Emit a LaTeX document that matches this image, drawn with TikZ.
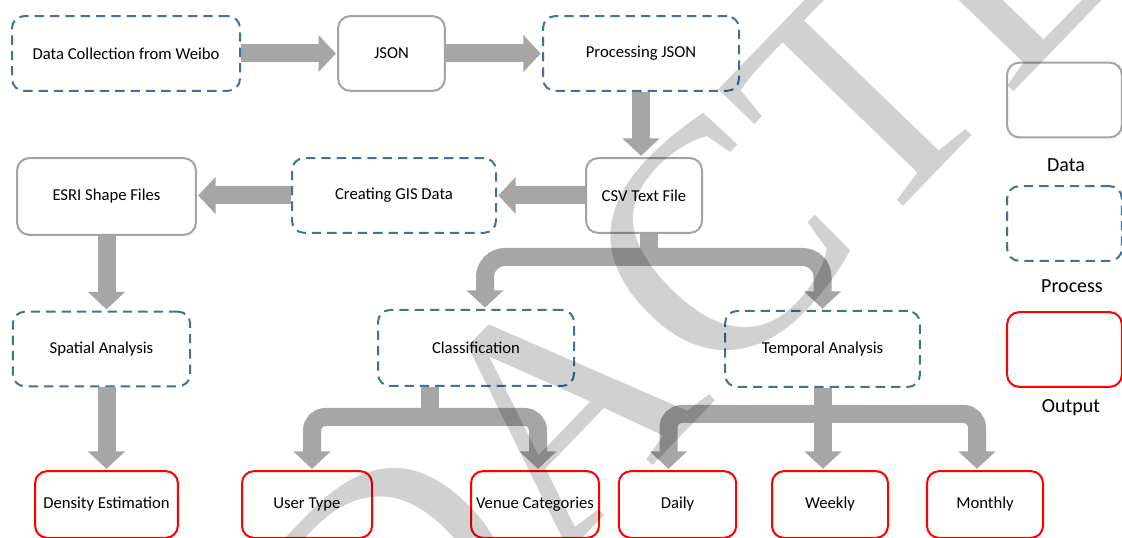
\documentclass[tikz,border=0pt]{standalone}
\usepackage{fontspec}
\setmainfont{Carlito}
\newfontfamily\stampfont{Liberation Serif}
\usetikzlibrary{arrows.meta,calc}
\definecolor{datagray}{HTML}{A3A3A3}
\definecolor{flowgray}{HTML}{A6A6A6}
\definecolor{procblue}{HTML}{41719C}
\definecolor{outred}{HTML}{FF0000}

\begin{document}
\begin{tikzpicture}[x=0.75pt, y=-0.75pt,
    box/.style={rectangle, rounded corners=9pt, line width=1.5pt, minimum height=56pt, inner sep=2pt, font=\fontsize{12.5}{15}\selectfont},
    data/.style={box, draw=datagray},
    proc/.style={box, draw=procblue, dash pattern=on 7pt off 4.5pt},
    outp/.style={box, draw=outred, minimum height=50pt},
    flow/.style={draw=flowgray, line width=13.5pt, -{Triangle[width=27pt,length=13pt]}, shorten >=1pt},
    stem/.style={draw=flowgray, line width=13.5pt},
    legend/.style={font=\fontsize{15}{18}\selectfont},
    stamp/.style={font=\stampfont\fontsize{245}{245}\selectfont, text=black, text opacity=0.18, inner sep=0pt}]
    \useasboundingbox[fill=white] (0,0) rectangle (1122,538);

    % ノードを置く
    \node[proc, minimum width=171pt] (weibo) at (126,53.5) {Data Collection from Weibo};
    \node[data, minimum width=80pt] (json) at (391.5,53.5) {JSON};
    \node[proc, minimum width=147pt] (procjson) at (641,53.5) {Processing JSON};
    \node[data, minimum width=87pt] (csv) at (644,195.5) {CSV Text File};
    \node[proc, minimum width=153pt] (gis) at (394,195.5) {Creating GIS Data};
    \node[data, minimum width=134pt, minimum height=57.5pt] (esri) at (106.5,196.5) {ESRI Shape Files};
    \node[proc, minimum width=133pt] (spatial) at (101.5,349) {Spatial Analysis};
    \node[proc, minimum width=147pt, minimum height=57pt] (classif) at (476,348) {Classification};
    \node[proc, minimum width=146pt, minimum height=57pt] (temporal) at (822.5,349) {Temporal Analysis};

    \node[outp, minimum width=107pt] (density) at (106.5,504.5) {Density Estimation};
    \node[outp, minimum width=97.5pt] (usertype) at (307,504.5) {User Type};
    \node[outp, minimum width=96pt] (venue) at (535,504.5) {Venue Categories};
    \node[outp, minimum width=88pt] (daily) at (677.5,504.5) {Daily};
    \node[outp, minimum width=87pt] (weekly) at (830,504.5) {Weekly};
    \node[outp, minimum width=87pt] (monthly) at (985,504.5) {Monthly};

    % 矢印を引く
    \draw[flow] (weibo.east) -- (json.west);
    \draw[flow] (json.east) -- (procjson.west);
    \draw[flow] (procjson.south) -- (procjson.south |- csv.north);
    \draw[flow] (csv.west) -- (gis.east);
    \draw[flow] (gis.west) -- (gis.west -| esri.east);
    \draw[flow] (esri.south) -- (esri.south |- spatial.north);
    \draw[flow] (density.north |- spatial.south) -- (density.north);

    % 枝分かれ
    \coordinate (csvfork) at (649,257);
    \draw[stem] (csv.south -| csvfork) -- (csvfork);
    \draw[flow, rounded corners=15pt] (csvfork) -| ($(classif.north)+(9,0)$);
    \draw[flow, rounded corners=15pt] (csvfork) -| (temporal.north);

    \coordinate (clsfork) at (430,417);
    \draw[stem] (classif.south -| clsfork) -- (clsfork);
    \draw[flow, rounded corners=10pt] (clsfork) -| ($(usertype.north)+(5,0)$);
    \draw[flow, rounded corners=10pt] (clsfork) -| ($(venue.north)+(3,0)$);

    \coordinate (tmpfork) at (823,414);
    \draw[flow] (temporal.south -| tmpfork) -- (tmpfork |- weekly.north);
    \draw[flow, rounded corners=10pt] (tmpfork) -| ($(daily.north)+(-9,0)$);
    \draw[flow, rounded corners=10pt] (tmpfork) -| ($(monthly.north)+(-8,0)$);

    % 凡例
    \node[data, minimum width=86pt] (legdata) at (1064.5,100) {};
    \node[legend] (legdatatxt) at (1066,165) {Data};
    \node[proc, minimum width=86pt] (legproc) at (1064.5,223.5) {};
    \node[legend] (legproctxt) at (1072,286) {Process};
    \node[outp, minimum width=86pt, minimum height=56pt] (legout) at (1064.5,349.5) {};
    \node[legend] (legouttxt) at (1071,408) {Output};

    % 透かし
    \node[stamp, rotate=46] (stampword) at (628,338) {REDACTED};
\end{tikzpicture}
\end{document}
